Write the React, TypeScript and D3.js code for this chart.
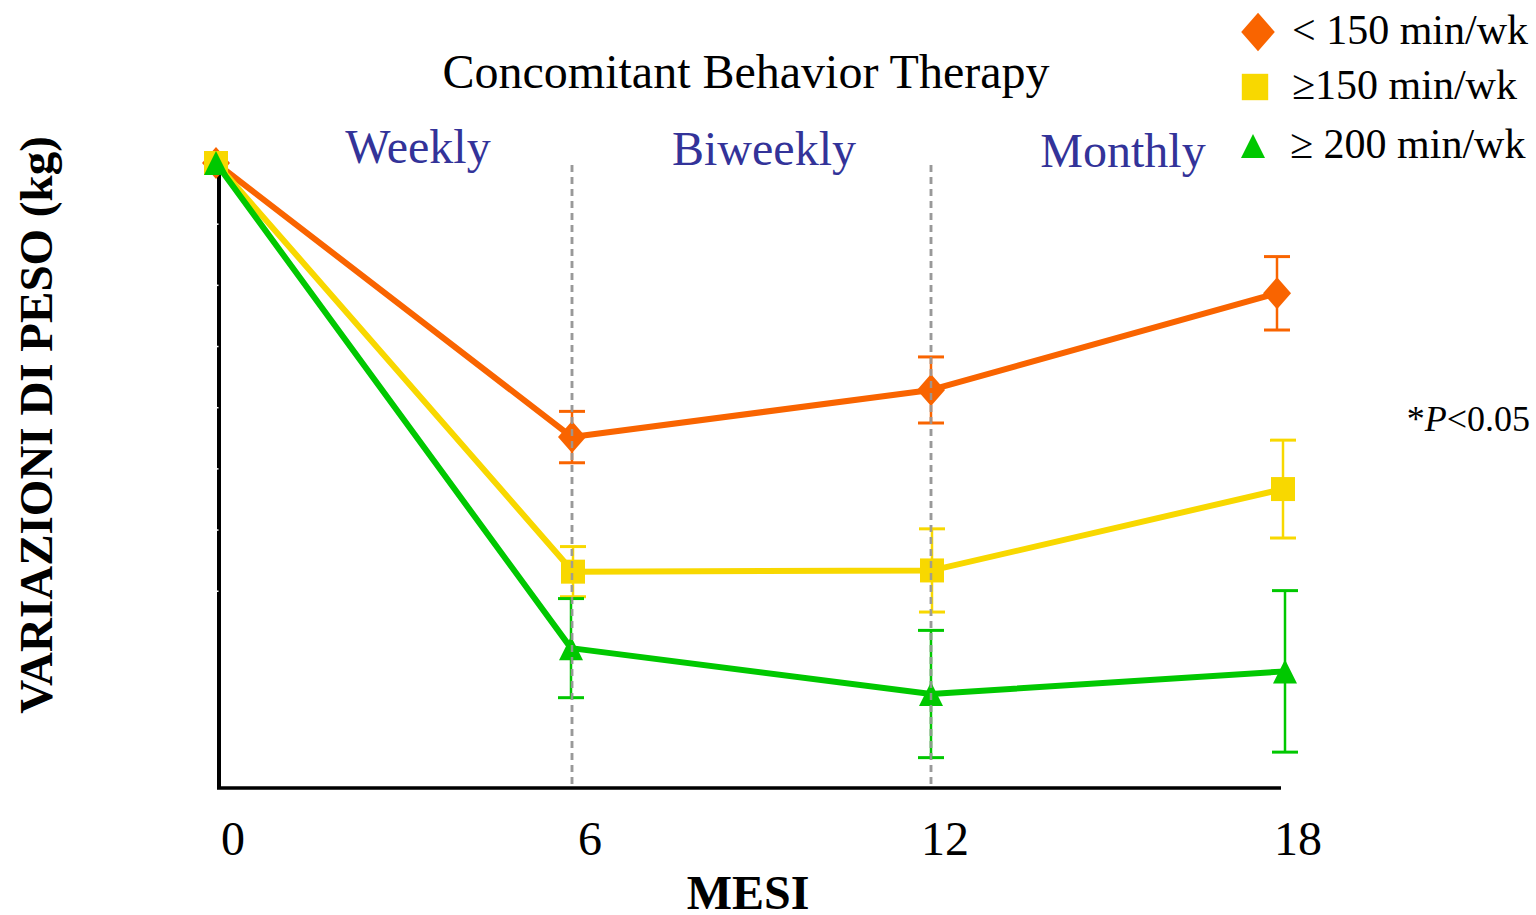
import React from "react";
import * as d3 from "d3";

const months = [0, 6, 12, 18];
const xTickLabels = ["0", "6", "12", "18"];
const seriesNames = ["< 150 min/wk", "≥150 min/wk", "≥ 200 min/wk"];
const lowValues = [0, -4.48, -3.71, -2.13];
const lowErr = [0, 0.42, 0.54, 0.6];
const midValues = [0, -6.68, -6.66, -5.33];
const midErr = [0, 0.41, 0.68, 0.8];
const highValues = [0, -7.93, -8.68, -8.31];
const highErr = [0, 0.81, 1.04, 1.32];
const phases = ["Weekly", "Biweekly", "Monthly"];
const phaseMid = [3, 9, 15];
const yTicks = [-1, -2, -3, -4, -5, -6, -7];

const colors = ["#F96400", "#F8D800", "#00C800"];
const shapes = ["diamond", "square", "triangle"];
const offsets = [[0, 0, 3, -7], [0, 1, 4, -1], [0, -1, 3, 1]];

const W = 1536, H = 915;
const x = d3.scaleLinear().domain([0, 18]).range([216, 1284]);
const y = d3.scaleLinear().domain([-10.2, 0]).range([787, 163]);

function Marker({ shape, cx, cy, color, scale = 1 }: { shape: string; cx: number; cy: number; color: string; scale?: number }) {
  if (shape === "diamond") {
    const sx = 14 * scale, sy = 16 * scale;
    return <path d={`M${cx},${cy - sy}L${cx + sx},${cy}L${cx},${cy + sy}L${cx - sx},${cy}Z`} fill={color} />;
  }
  if (shape === "square") {
    const s = 12 * scale;
    return <rect x={cx - s} y={cy - s} width={2 * s} height={2 * s} fill={color} />;
  }
  const s = 12 * scale;
  return <path d={`M${cx},${cy - s}L${cx + s},${cy + s}L${cx - s},${cy + s}Z`} fill={color} />;
}

export default function App() {
  const series = [
    { vals: lowValues, errs: lowErr },
    { vals: midValues, errs: midErr },
    { vals: highValues, errs: highErr },
  ];
  const line = d3.line<[number, number]>().x((d) => d[0]).y((d) => d[1]);
  const serif = "'Liberation Serif', 'Times New Roman', serif";
  const dashX = [x(6), x(12) + 3];
  return (
    <svg width={W} height={H} style={{ position: "absolute", left: 0, top: 0, background: "#fff" }} fontFamily={serif}>
      <rect width={W} height={H} fill="#fff" />
      {dashX.map((dx, k) => (
        <line key={k} x1={dx} x2={dx} y1={165} y2={787} stroke="#999" strokeWidth={2.5} strokeDasharray="7,5" />
      ))}
      <line x1={219} x2={219} y1={168} y2={789} stroke="#000" strokeWidth={4} />
      <line x1={217} x2={1281} y1={788} y2={788} stroke="#000" strokeWidth={3.5} />
      {yTicks.map((t) => (
        <line key={t} x1={216} x2={218.5} y1={y(t)} y2={y(t)} stroke="#fff" strokeWidth={1.5} />
      ))}
      {series.map((s, si) => {
        const pts: [number, number][] = months.map((m, i) => [x(m) + offsets[si][i], y(s.vals[i])]);
        return (
          <g key={si}>
            {months.map((m, i) =>
              s.errs[i] > 0 ? (
                <g key={i} stroke={colors[si]} strokeWidth={2.5}>
                  <line x1={pts[i][0]} x2={pts[i][0]} y1={y(s.vals[i] + s.errs[i])} y2={y(s.vals[i] - s.errs[i])} />
                  <line x1={pts[i][0] - 13} x2={pts[i][0] + 13} y1={y(s.vals[i] + s.errs[i])} y2={y(s.vals[i] + s.errs[i])} strokeWidth={3} />
                  <line x1={pts[i][0] - 13} x2={pts[i][0] + 13} y1={y(s.vals[i] - s.errs[i])} y2={y(s.vals[i] - s.errs[i])} strokeWidth={3} />
                </g>
              ) : null
            )}
            <path d={line(pts) || ""} fill="none" stroke={colors[si]} strokeWidth={6} strokeLinejoin="round" />
            {pts.map((p, i) => (
              <Marker key={i} shape={shapes[si]} cx={p[0]} cy={p[1]} color={colors[si]} />
            ))}
          </g>
        );
      })}
      {dashX.map((dx, k) => (
        <line key={"o" + k} x1={dx} x2={dx} y1={165} y2={787} stroke="#999" strokeWidth={2.5} strokeDasharray="7,5" opacity={0.9} />
      ))}
      <text x={746} y={88} fontSize={48} textAnchor="middle" fill="#000">Concomitant Behavior Therapy</text>
      {phases.map((p, i) => (
        <text key={p} x={x(phaseMid[i]) + [24, 14, 17][i]} y={163 + i * 2} fontSize={48} textAnchor="middle" fill="#333399">{p}</text>
      ))}
      {months.map((m, i) => (
        <text key={m} x={x(m) + [17, 18, 17, 14][i]} y={855} fontSize={48} textAnchor="middle" fill="#000">{xTickLabels[i]}</text>
      ))}
      <text x={748} y={909} fontSize={48} fontWeight="bold" textAnchor="middle" fill="#000">MESI</text>
      <text transform="translate(52,425) rotate(-90)" fontSize={47} fontWeight="bold" textAnchor="middle" fill="#000">VARIAZIONI DI PESO (kg)</text>
      {seriesNames.map((n, i) => (
        <g key={n}>
          <Marker shape={shapes[i]} cx={[1258, 1255, 1253][i]} cy={[32, 87, 146][i]} color={colors[i]} scale={[1.2, 1.1, 1][i]} />
          <text x={[1292, 1292, 1290][i]} y={[44, 99, 158][i]} fontSize={42} fill="#000">{n}</text>
        </g>
      ))}
      <text x={1530} y={431} fontSize={36} textAnchor="end" fill="#000">*<tspan fontStyle="italic">P</tspan>&lt;0.05</text>
    </svg>
  );
}
